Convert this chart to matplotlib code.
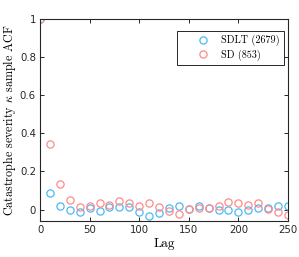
import matplotlib

matplotlib.use("Agg")
import matplotlib.pyplot as plt
import numpy as np

# sample ACF
lags = list(range(0, 260, 10))
acf_sdlt = [1.0, 0.086, 0.017, 0.0, -0.011, 0.010, -0.007, 0.013, 0.016, 0.011,
            -0.014, -0.036, -0.019, 0.009, 0.017, 0.004, 0.021, 0.008, 0.0, 0.0,
            -0.013, 0.0, 0.006, 0.010, 0.021, 0.021]
acf_sd = [1.0, 0.346, 0.135, 0.052, 0.014, 0.021, 0.033, 0.026, 0.047, 0.032,
          0.021, 0.033, 0.012, -0.005, -0.023, 0.004, 0.009, 0.009, 0.021, 0.039,
          0.033, 0.026, 0.033, 0.004, -0.014, -0.028]
labels = ["SDLT (2679)", "SD (853)"]

C_BLUE = "#4cb8f5"
C_RED = "#ff8a8a"
C_AX = "#262626"

plt.rcParams.update({
    "mathtext.fontset": "cm",
    "axes.unicode_minus": False,
})

fig = plt.figure(figsize=(2.99, 2.57), dpi=100)
ax = fig.add_axes([0.134, 0.140, 0.829, 0.786])

ax.plot(lags, acf_sdlt, "o", ms=5.2, mfc="none", mec=C_BLUE, mew=0.9, label=labels[0])
ax.plot(lags, acf_sd, "o", ms=5.2, mfc="none", mec=C_RED, mew=0.9, label=labels[1])

ax.set_xlim(0, 250)
ax.set_ylim(-0.06, 1.0)
ax.set_xticks([0, 50, 100, 150, 200, 250])
ax.set_yticks([0, 0.2, 0.4, 0.6, 0.8, 1.0])
ax.set_yticklabels(["0", "0.2", "0.4", "0.6", "0.8", "1"])

for s in ax.spines.values():
    s.set_color(C_AX)
    s.set_linewidth(0.8)
ax.tick_params(direction="in", top=True, right=True, length=3, width=0.7,
               color=C_AX, labelsize=7.3, labelcolor=C_AX, pad=3)

ax.set_xlabel("Lag", fontfamily="cmr10", fontsize=9.5, labelpad=2)
ax.set_ylabel(r"Catastrophe severity $\kappa$ sample ACF", fontfamily="cmr10",
              fontsize=8.7, labelpad=1)

leg = ax.legend(loc="upper right", bbox_to_anchor=(0.984, 0.941), borderaxespad=0,
                prop={"family": "cmr10", "size": 7.3}, frameon=True, fancybox=False,
                edgecolor=C_AX, framealpha=1, handletextpad=-0.4, borderpad=0.4,
                labelspacing=0.3, handlelength=4.4)
leg.get_frame().set_linewidth(0.7)

fig.savefig("out.png", dpi=100)
